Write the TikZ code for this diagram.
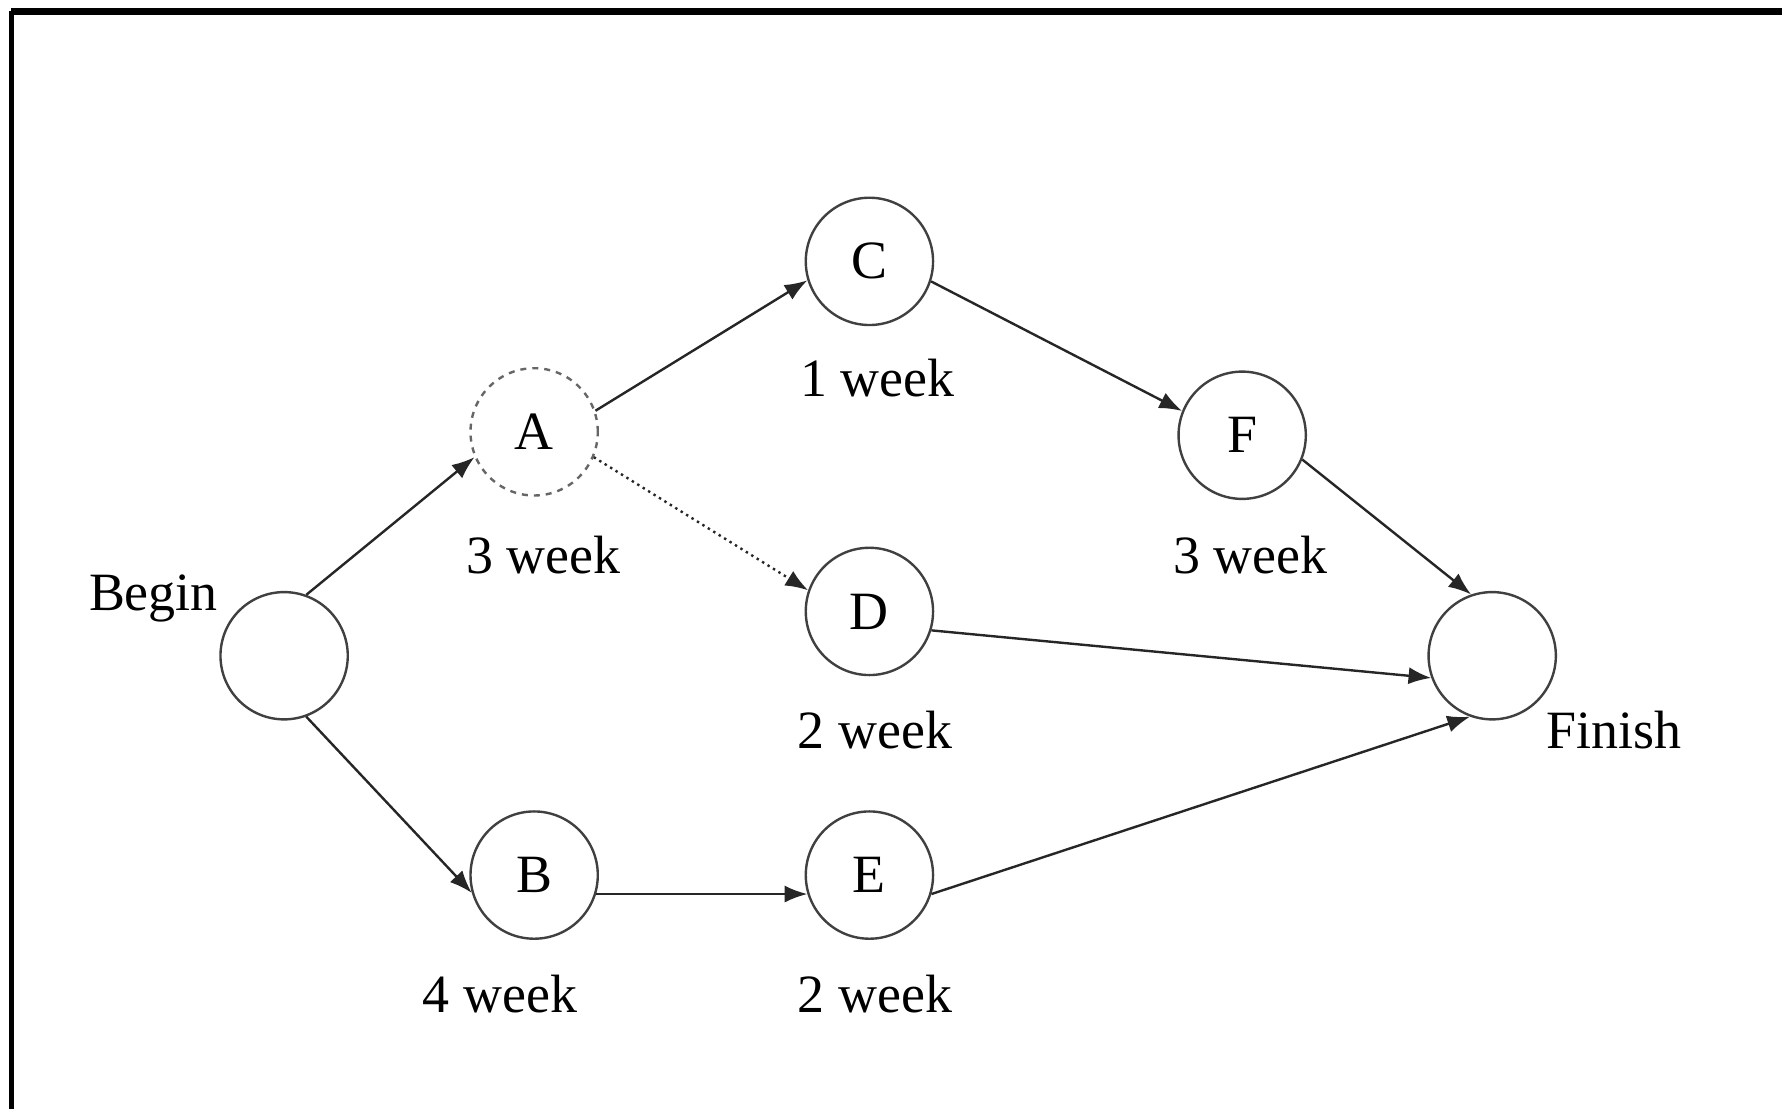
\documentclass[tikz,border=0pt]{standalone}
\usepackage{fontspec}
\setmainfont{Liberation Serif}
\usetikzlibrary{arrows.meta}
\tikzset{
    evt/.style={circle,draw=black!75,line width=0.6pt,minimum size=1.12cm,inner sep=0pt,font=\fontsize{13.5}{16}\selectfont},
    lbl/.style={font=\fontsize{13.5}{16}\selectfont},
    act/.style={->,line width=0.6pt,draw=black!85}
}
\begin{document}
\begin{tikzpicture}[>={Latex[length=2mm,width=1.5mm]}]
    \useasboundingbox (0,0) rectangle (15.68,9.76);
    \fill[white] (0,0) rectangle (15.68,9.76);
    \draw[line width=1.2pt] (0.10,0)--(0.10,9.66);
    \draw[line width=1.6pt] (0.10,9.66)--(15.68,9.66);
    % events
    \node[evt] (begin) at (2.50,3.99) {};
    \node[evt,dashed,dash pattern=on 1.5pt off 1.5pt,draw=black!60] (A) at (4.70,5.96) {A};
    \node[evt] (C) at (7.65,7.46) {C};
    \node[evt] (F) at (10.93,5.93) {F};
    \node[evt] (D) at (7.65,4.38) {D};
    \node[evt] (finish) at (13.13,3.99) {};
    \node[evt] (B) at (4.70,2.06) {B};
    \node[evt] (E) at (7.65,2.06) {E};
    % labels
    \node[lbl] (tbegin) at (1.35,4.49) {Begin};
    \node[lbl] (tfinish) at (14.20,3.34) {Finish};
    \node[lbl] (tA) at (4.78,4.88) {3 week};
    \node[lbl] (tC) at (7.72,6.43) {1 week};
    \node[lbl] (tF) at (11.00,4.88) {3 week};
    \node[lbl] (tD) at (7.70,3.34) {2 week};
    \node[lbl] (tB) at (4.40,1.01) {4 week};
    \node[lbl] (tE) at (7.70,1.01) {2 week};
    % activities
    \draw[act] (begin.70)--(A.203);
    \draw[act] (begin.-70)--(B.196);
    \draw[act] (A.19)--(C.197);
    \draw[act,densely dotted] (A.-23)--(D.161);
    \draw[act] (C.-18)--(F.158);
    \draw[act] (F.-22)--(finish.109);
    \draw[act] (D.-17)--(finish.200);
    \draw[act] (B.-17)--(E.197);
    \draw[act] (E.-17)--(finish.250);
\end{tikzpicture}
\end{document}
